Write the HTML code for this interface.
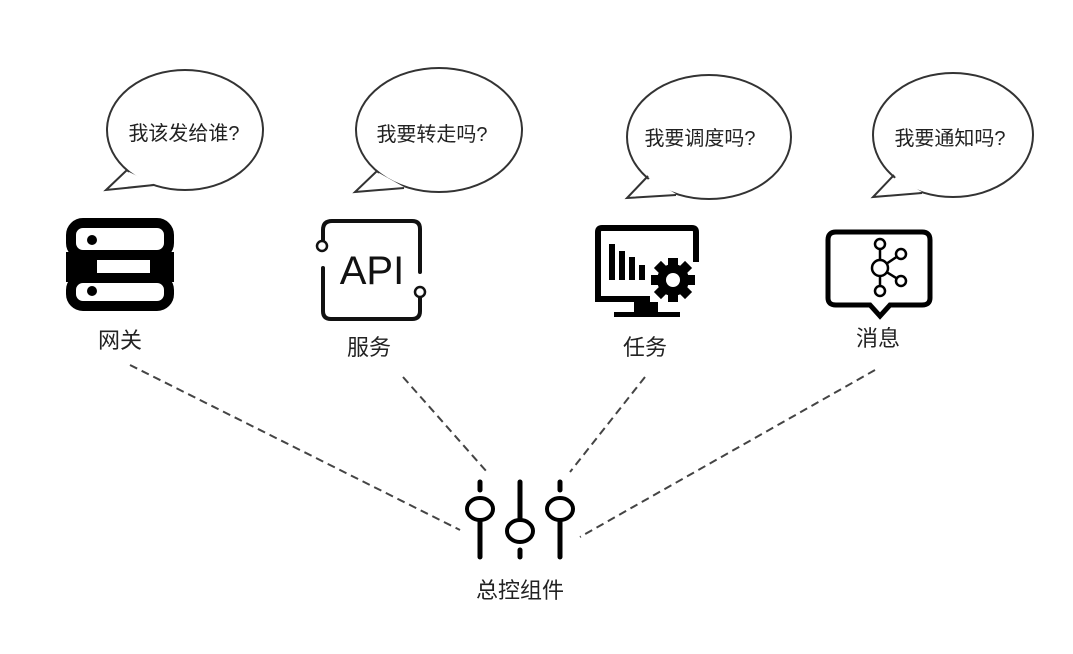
<!DOCTYPE html>
<html><head><meta charset="utf-8"><style>
html,body{margin:0;padding:0;background:#fff;}
svg text{font-family:"Liberation Sans","Noto Sans CJK SC",sans-serif;fill:#222;}
</style></head><body>
<svg width="1073" height="649" viewBox="0 0 1073 649" xmlns="http://www.w3.org/2000/svg">
<g fill="#fff" stroke="#333" stroke-width="2">
<ellipse cx="185" cy="130" rx="78" ry="60"/>
<ellipse cx="439" cy="130" rx="83" ry="62"/>
<ellipse cx="709" cy="137" rx="82" ry="62"/>
<ellipse cx="953" cy="135" rx="80" ry="62"/>
</g>
<g fill="#fff" stroke="#333" stroke-width="2" stroke-linejoin="miter">
<polygon points="129,172 106,190 154,184" stroke="none"/>
<polyline points="127,170 106,190 154,185" fill="none"/>
<polygon points="379,173 355,192 404,187" stroke="none"/>
<polyline points="377,171 355,192 404,188" fill="none"/>
<polygon points="650,178 627,198 676,194" stroke="none"/>
<polyline points="648,176 627,198 676,195" fill="none"/>
<polygon points="896,177 873,197 922,192" stroke="none"/>
<polyline points="894,175 873,197 922,193" fill="none"/>
</g>
<g font-size="20" text-anchor="middle">
<text x="184" y="140">我该发给谁?</text>
<text x="432" y="141">我要转走吗?</text>
<text x="700" y="145">我要调度吗?</text>
<text x="950" y="145">我要通知吗?</text>
</g>
<!-- gateway -->
<g>
<rect x="71" y="223" width="98" height="32" rx="12" fill="none" stroke="#000" stroke-width="10"/>
<rect x="71" y="278" width="98" height="28" rx="12" fill="none" stroke="#000" stroke-width="10"/>
<rect x="66" y="252" width="31" height="30" fill="#000"/>
<rect x="150" y="252" width="24" height="30" fill="#000"/>
<circle cx="92" cy="240" r="5" fill="#000"/>
<circle cx="92" cy="291" r="5" fill="#000"/>
</g>
<!-- API -->
<g fill="none" stroke="#111" stroke-width="4" stroke-linecap="round">
<path d="M323,240 V230 Q323,221 332,221 H412 Q420,221 420,229 V272"/>
<path d="M323,268 V311 Q323,319 331,319 H412 Q420,319 420,311 V298"/>
<circle cx="322" cy="246" r="5" stroke-width="2.5" fill="#fff"/>
<circle cx="420" cy="292" r="5" stroke-width="2.5" fill="#fff"/>
</g>
<text x="372" y="284" font-size="40" text-anchor="middle" style="fill:#111">API</text>
<!-- task -->
<g>
<path d="M598,296 V232 Q598,228 602,228 H692 Q696,228 696,232 V262" fill="none" stroke="#000" stroke-width="6"/>
<path d="M598,293 V299 H650" fill="none" stroke="#000" stroke-width="6"/>
<rect x="609" y="244" width="6" height="36" fill="#000"/>
<rect x="619" y="251" width="6" height="29" fill="#000"/>
<rect x="629" y="257" width="6" height="23" fill="#000"/>
<rect x="639" y="265" width="6" height="15" fill="#000"/>
<rect x="634" y="302" width="24" height="12" fill="#000"/>
<rect x="614" y="312" width="66" height="5" fill="#000"/>
<g transform="translate(673,280)">
<circle r="16" fill="#000"/>
<g fill="#000">
<rect x="-5" y="-22" width="10" height="44"/>
<rect x="-5" y="-22" width="10" height="44" transform="rotate(45)"/>
<rect x="-5" y="-22" width="10" height="44" transform="rotate(90)"/>
<rect x="-5" y="-22" width="10" height="44" transform="rotate(135)"/>
</g>
<circle r="7" fill="#fff"/>
</g>
</g>
<!-- message -->
<g fill="none" stroke="#000">
<path d="M836,232 H922 Q930,232 930,240 V298 Q930,305 922,305 H890 L880,316 L870,305 H836 Q828,305 828,298 V240 Q828,232 836,232 Z" stroke-width="5"/>
<g stroke-width="2.5">
<line x1="880" y1="248" x2="880" y2="293"/>
<line x1="880" y1="268" x2="901" y2="254"/>
<line x1="880" y1="268" x2="901" y2="281"/>
<circle cx="880" cy="244" r="5" fill="#fff"/>
<circle cx="880" cy="268" r="8" fill="#fff"/>
<circle cx="901" cy="254" r="5" fill="#fff"/>
<circle cx="901" cy="281" r="5" fill="#fff"/>
<circle cx="880" cy="291" r="5" fill="#fff"/>
</g>
</g>
<g font-size="22" text-anchor="middle">
<text x="120" y="348">网关</text>
<text x="369" y="355">服务</text>
<text x="645" y="355">任务</text>
<text x="878" y="346">消息</text>
<text x="520" y="598">总控组件</text>
</g>
<!-- dashed -->
<g stroke="#444" stroke-width="2" stroke-dasharray="8,5" fill="none">
<line x1="130" y1="365" x2="460" y2="530"/>
<line x1="403" y1="377" x2="487" y2="472"/>
<line x1="645" y1="377" x2="570" y2="472"/>
<line x1="875" y1="370" x2="580" y2="537"/>
</g>
<!-- control -->
<g stroke="#000" stroke-width="5" stroke-linecap="round" fill="none">
<line x1="480" y1="482" x2="480" y2="490"/>
<line x1="480" y1="522" x2="480" y2="557"/>
<ellipse cx="480" cy="509" rx="13" ry="11" stroke-width="4"/>
<line x1="520" y1="482" x2="520" y2="518"/>
<line x1="520" y1="550" x2="520" y2="557"/>
<ellipse cx="520" cy="531" rx="13" ry="11" stroke-width="4"/>
<line x1="560" y1="482" x2="560" y2="490"/>
<line x1="560" y1="522" x2="560" y2="557"/>
<ellipse cx="560" cy="509" rx="13" ry="11" stroke-width="4"/>
</g>
</svg>
</body></html>
